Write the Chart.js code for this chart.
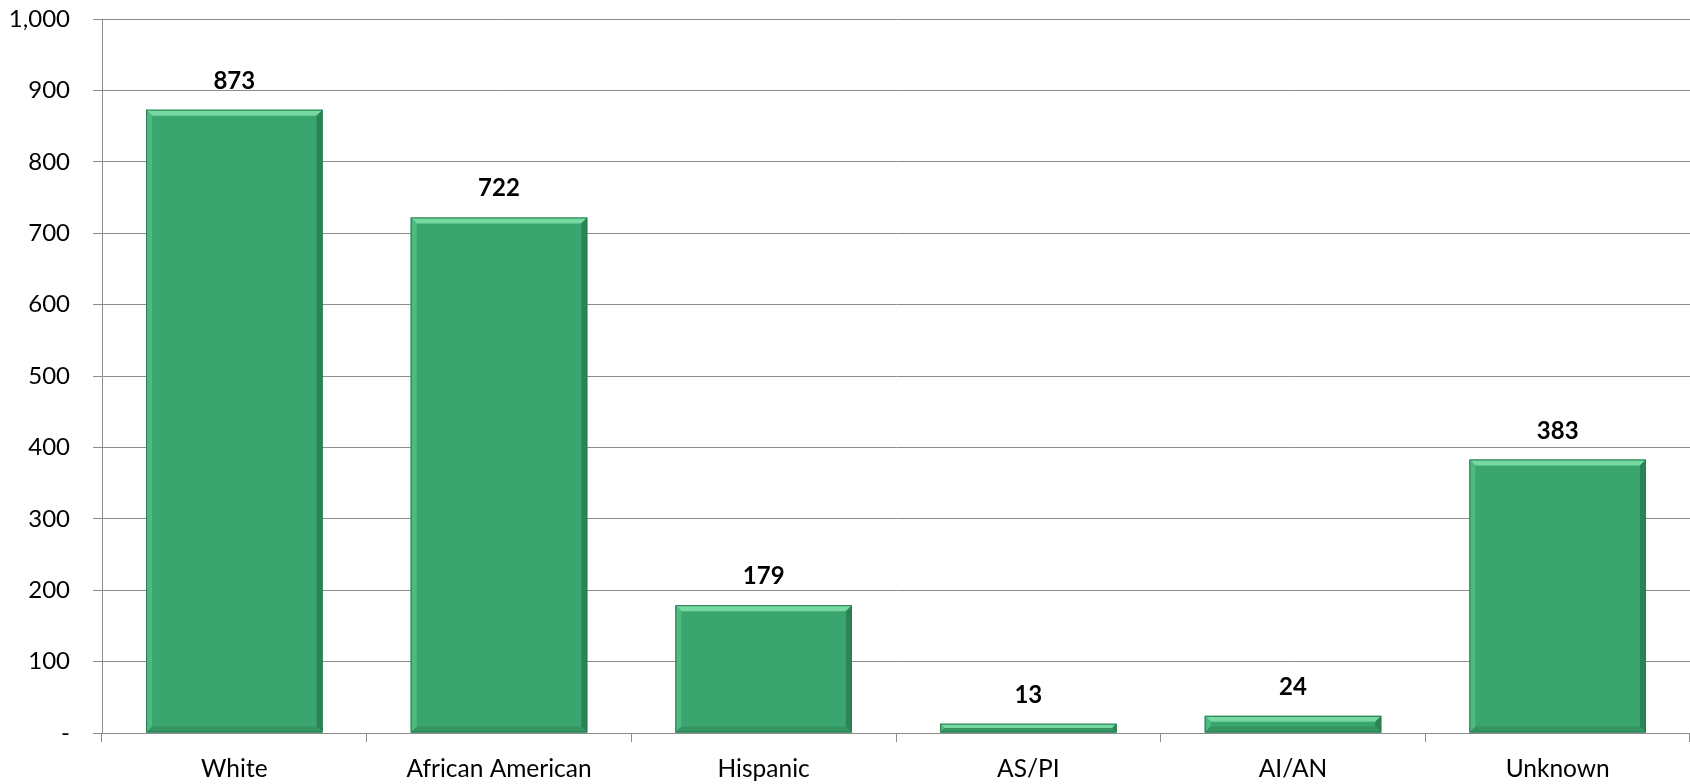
<!DOCTYPE html>
<html>
<head>
<meta charset="utf-8">
<script src="https://cdn.jsdelivr.net/npm/chart.js@4/dist/chart.umd.min.js"></script>
<style>
  html, body { margin: 0; padding: 0; background: #fff; }
  #wrap { width: 1690px; height: 784px; }
</style>
</head>
<body>
<div id="wrap"><canvas id="myChart"></canvas></div>
<script>
const categories = ['White', 'African American', 'Hispanic', 'AS/PI', 'AI/AN', 'Unknown']
const counts = [873, 722, 179, 13, 24, 383]
const yTicks = [0, 100, 200, 300, 400, 500, 600, 700, 800, 900, 1000]

const gridGray = '#8c8c8c'
const fontFamily = 'Lato, "Open Sans", sans-serif'

// bevel look + value labels over each bar
const barDecor = {
  id: 'barDecor',
  afterDatasetsDraw(chart) {
    const ctx = chart.ctx
    const meta = chart.getDatasetMeta(0)
    meta.data.forEach((bar, i) => {
      const left = bar.x - bar.width / 2
      const right = bar.x + bar.width / 2
      const top = bar.y
      const bottom = bar.base
      const h = bottom - top
      const b = Math.min(6, h / 2)
      ctx.save()
      // top light edge
      ctx.fillStyle = '#76d9a2'
      ctx.beginPath()
      ctx.moveTo(left, top)
      ctx.lineTo(right, top)
      ctx.lineTo(right - b, top + b)
      ctx.lineTo(left + b, top + b)
      ctx.closePath()
      ctx.fill()
      // left edge
      ctx.fillStyle = '#4fb982'
      ctx.beginPath()
      ctx.moveTo(left, top)
      ctx.lineTo(left + b, top + b)
      ctx.lineTo(left + b, bottom - b)
      ctx.lineTo(left, bottom)
      ctx.closePath()
      ctx.fill()
      // right dark edge
      ctx.fillStyle = '#2c8456'
      ctx.beginPath()
      ctx.moveTo(right, top)
      ctx.lineTo(right, bottom)
      ctx.lineTo(right - b, bottom - b)
      ctx.lineTo(right - b, top + b)
      ctx.closePath()
      ctx.fill()
      // bottom edge
      ctx.fillStyle = '#349462'
      ctx.beginPath()
      ctx.moveTo(left, bottom)
      ctx.lineTo(right, bottom)
      ctx.lineTo(right - b, bottom - b)
      ctx.lineTo(left + b, bottom - b)
      ctx.closePath()
      ctx.fill()
      ctx.strokeStyle = '#2a7d51'
      ctx.lineWidth = 1
      ctx.strokeRect(left + 0.5, top + 0.5, bar.width - 1, h - 1)

      ctx.fillStyle = '#000'
      ctx.font = 'bold 24px ' + fontFamily
      ctx.textAlign = 'center'
      ctx.textBaseline = 'alphabetic'
      ctx.fillText(counts[i], bar.x, top - 21)
      ctx.restore()
    })
  }
}

new Chart(document.getElementById('myChart'), {
  type: 'bar',
  data: {
    labels: categories,
    datasets: [{
      data: counts,
      backgroundColor: '#3ba56f',
      borderWidth: 0,
      categoryPercentage: 1,
      barPercentage: 0.667
    }]
  },
  options: {
    responsive: true,
    maintainAspectRatio: false,
    animation: false,
    layout: { padding: { top: 19, right: 0, left: 0, bottom: 0 } },
    plugins: { legend: { display: false }, tooltip: { enabled: false } },
    scales: {
      x: {
        offset: true,
        grid: { display: true, drawOnChartArea: false, color: gridGray, tickLength: 9, offset: true },
        border: { color: gridGray, width: 1 },
        ticks: { color: '#000', font: { family: fontFamily, size: 24.5 }, padding: 12 },
        afterFit(scale) { scale.height = 51 }
      },
      y: {
        min: 0,
        max: 1000,
        afterBuildTicks(scale) { scale.ticks = yTicks.map(v => ({ value: v })) },
        grid: { color: gridGray, tickLength: 9 },
        border: { color: gridGray, width: 1 },
        ticks: {
          color: '#000',
          font: { family: fontFamily, size: 24 },
          padding: 23,
          callback: v => v === 0 ? '-' : v.toLocaleString('en-US')
        },
        afterFit(scale) {
          scale.width = 102
          scale.paddingTop = 0
          scale.paddingBottom = 0
        }
      }
    }
  },
  plugins: [barDecor]
})
</script>
</body>
</html>
